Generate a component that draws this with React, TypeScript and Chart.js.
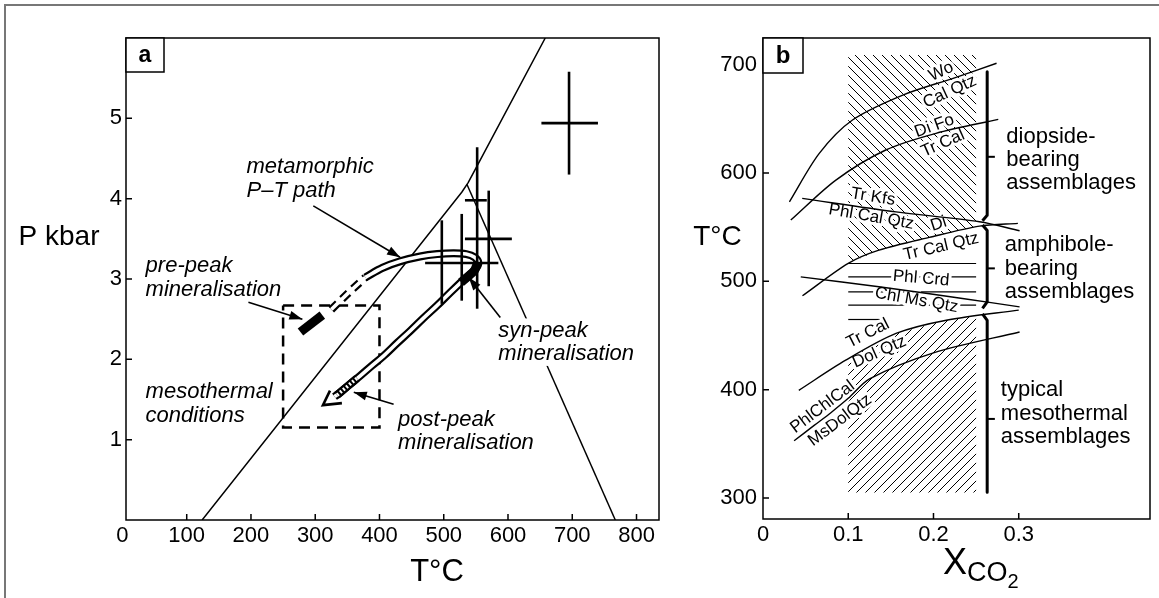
import React, { useEffect, useRef } from "react";
import { Chart, registerables } from "chart.js";

Chart.register(...registerables);

const FONT = '"Liberation Sans", Arial, Helvetica, sans-serif';

// ================= Panel a : P–T diagram =================
const tempTicksA = [0, 100, 200, 300, 400, 500, 600, 700, 800];
const presTicksA = [1, 2, 3, 4, 5];

// reaction / stability boundaries  [T °C, P kbar]
const leftBoundary = [[124, 0], [528, 4.08], [538, 4.2], [548, 4.35], [658, 6.0]];
const rightBoundary = [[536, 4.18], [767, 0]];

// P–T estimates (error crosses)
const crossVT = [695, 497, 528, 552, 570];
const crossVLo = [4.3, 2.69, 2.73, 2.63, 2.91];
const crossVHi = [5.58, 3.73, 3.81, 4.64, 4.1];
const crossHP = [4.94, 3.98, 3.5, 3.2];
const crossHLo = [652, 533, 533, 471];
const crossHHi = [740, 567, 606, 585];

// mesothermal conditions box
const boxOutline = [[250, 2.67], [400, 2.67], [400, 1.15], [250, 1.15], [250, 2.67]];

// metamorphic P–T path
const pathDashed = [[325, 2.62], [352, 2.83], [378, 3.02]];
const pathMain = [
  [378, 3.02], [405, 3.14], [432, 3.22], [463, 3.28], [490, 3.31], [515, 3.32], [535, 3.31],
  [548, 3.27], [554, 3.2], [549, 3.12], [540, 3.05], [531, 2.99], [510, 2.83], [489, 2.665],
  [468, 2.51], [448, 2.355], [427, 2.2], [406, 2.04], [388, 1.92], [370, 1.795], [354, 1.69],
  [339, 1.59], [330, 1.535],
];
const pathChevron = [[323, 1.61], [312, 1.43], [341.5, 1.455]];

// mineralisation stages on the path
const prePeak = [[277, 2.34], [311, 2.55]];
const synPeak = [[553, 3.21], [548, 3.11], [539, 3.04], [527, 2.96]];
const postPeak = [[334, 1.555], [365, 1.765]];

// annotation arrows  [from, to]
const arrowsA = [
  [[297, 3.91], [432, 3.27]],
  [[196, 2.71], [280, 2.5]],
  [[588, 2.52], [539, 3.02]],
  [[422, 1.44], [360, 1.59]],
];

const labelsA = [
  { lines: ["metamorphic", "P\u2013T path"], t: 193, p: 4.39 },
  { lines: ["pre-peak", "mineralisation"], t: 36, p: 3.16 },
  { lines: ["mesothermal", "conditions"], t: 36, p: 1.59 },
  { lines: ["syn-peak", "mineralisation"], t: 585, p: 2.36 },
  { lines: ["post-peak", "mineralisation"], t: 429, p: 1.25 },
];

// ================= Panel b : T–XCO2 diagram =================
const xTicksB = [0, 0.1, 0.2, 0.3];
const tTicksB = [300, 400, 500, 600, 700];

const curveWo = [[0.031, 573.5], [0.066, 618.2], [0.105, 649], [0.164, 672], [0.223, 687.5], [0.274, 701.4]];
const curveDiFo = [[0.0326, 556.6], [0.0855, 593.5], [0.144, 621.3], [0.203, 636.7], [0.276, 649.6]];
const curveTrKfs = [[0.046, 576.6], [0.156, 564.2], [0.254, 555], [0.301, 546.7]];
const curveTrCalQtz = [[0.0463, 486.7], [0.1, 516.6], [0.136, 528.8], [0.195, 540.6], [0.254, 551], [0.299, 553.5]];
const curveChlMs = [[0.0443, 504.2], [0.136, 495], [0.234, 484.2], [0.301, 476.4]];
const curveTrCalDol = [[0.042, 399.4], [0.097, 427.2], [0.156, 451.9], [0.215, 464.1], [0.3, 473.5]];
const curvePhlChl = [[0.0365, 352.8], [0.06, 367], [0.08, 379], [0.1, 392], [0.125, 410], [0.2, 434], [0.301, 453.3]];

const upperHatch = [[0.1, 709], [0.25, 709], [0.25, 550.5], [0.195, 540.6], [0.136, 528.8], [0.1, 516.6], [0.1, 709]];
const lowerHatch = [[0.1, 305], [0.25, 305], [0.25, 468.5], [0.215, 464.1], [0.156, 451.9], [0.1, 428.5], [0.1, 305]];
const midLinesT = [516.5, 504.2, 490.3, 478, 464.8];
const midLinesXEnd = [0.25, 0.25, 0.25, 0.25, 0.137];

const bracket1 = [[0.263, 693.6], [0.263, 561], [0.2575, 556]];
const bracket2 = [[0.2575, 552], [0.263, 547], [0.263, 481], [0.2575, 475]];
const bracket3 = [[0.2575, 470], [0.263, 464], [0.263, 305.2]];
const bracketTicksT = [615, 512, 373];

const labelsB = [
  { text: "Wo", x: 0.209, y: 693.6, rot: -25 },
  { text: "Cal Qtz", x: 0.219, y: 675, rot: -25 },
  { text: "Di Fo", x: 0.201, y: 643.5, rot: -20 },
  { text: "Tr Cal", x: 0.211, y: 627.4, rot: -24 },
  { text: "Tr Kfs", x: 0.129, y: 578, rot: 9 },
  { text: "Phl Cal Qtz", x: 0.127, y: 559.6, rot: 10 },
  { text: "Di", x: 0.206, y: 553, rot: -18 },
  { text: "Tr Cal Qtz", x: 0.209, y: 532, rot: -13 },
  { text: "Phl Crd", x: 0.1855, y: 502.7, rot: 5 },
  { text: "Chl Ms Qtz", x: 0.18, y: 482.6, rot: 10 },
  { text: "Tr Cal", x: 0.123, y: 452, rot: -27 },
  { text: "Dol Qtz", x: 0.1365, y: 434.8, rot: -24 },
  { text: "PhlChlCal", x: 0.0698, y: 384, rot: -37 },
  { text: "MsDolQtz", x: 0.0902, y: 371.7, rot: -37 },
];

const sideLabelsB = [
  { lines: ["diopside-", "bearing", "assemblages"], x: 0.2855, y: 633.6 },
  { lines: ["amphibole-", "bearing", "assemblages"], x: 0.2835, y: 533.4 },
  { lines: ["typical", "mesothermal", "assemblages"], x: 0.279, y: 399.4 },
];

// ================= helpers =================
function pts(arr: number[][]) {
  return arr.map(([x, y]) => ({ x, y }));
}

function lineDs(arr: number[][], extra: any = {}) {
  return {
    data: pts(arr),
    borderColor: "#000",
    borderWidth: 1.5,
    pointRadius: 0,
    pointHoverRadius: 0,
    fill: false,
    tension: 0,
    borderCapStyle: "butt",
    borderJoinStyle: "round",
    ...extra,
  };
}

function hatchPattern(dir: "back" | "fwd") {
  const s = 9;
  const c = document.createElement("canvas");
  c.width = s;
  c.height = s;
  const g = c.getContext("2d")!;
  g.strokeStyle = "#000";
  g.lineWidth = 1.0;
  g.beginPath();
  for (let k = -1; k <= 1; k++) {
    if (dir === "back") {
      g.moveTo(k * s, 0);
      g.lineTo(k * s + s, s);
    } else {
      g.moveTo(k * s + s, 0);
      g.lineTo(k * s, s);
    }
  }
  g.stroke();
  return g.createPattern(c, "repeat")!;
}

function drawFrameAndTicks(chart: any, xt: number[], yt: number[]) {
  const { ctx, chartArea: a } = chart;
  const xs = chart.scales.x;
  const ys = chart.scales.y;
  ctx.save();
  ctx.strokeStyle = "#000";
  ctx.lineWidth = 1.5;
  ctx.strokeRect(a.left, a.top, a.right - a.left, a.bottom - a.top);
  ctx.beginPath();
  for (const v of xt) {
    const px = xs.getPixelForValue(v);
    if (px <= a.left + 1 || px >= a.right - 1) continue;
    ctx.moveTo(px, a.bottom);
    ctx.lineTo(px, a.bottom - 6);
  }
  for (const v of yt) {
    const py = ys.getPixelForValue(v);
    if (py <= a.top + 1 || py >= a.bottom - 1) continue;
    ctx.moveTo(a.left, py);
    ctx.lineTo(a.left + 6, py);
  }
  ctx.stroke();
  ctx.restore();
}

function drawPanelBox(chart: any, letter: string, w: number, h: number, size: number) {
  const { ctx, chartArea: a } = chart;
  ctx.save();
  ctx.fillStyle = "#fff";
  ctx.fillRect(a.left, a.top, w, h);
  ctx.strokeStyle = "#000";
  ctx.lineWidth = 1.5;
  ctx.strokeRect(a.left, a.top, w, h);
  ctx.fillStyle = "#000";
  ctx.font = `bold ${size}px ${FONT}`;
  ctx.textAlign = "center";
  ctx.textBaseline = "middle";
  ctx.fillText(letter, a.left + w / 2, a.top + h / 2 + 1);
  ctx.restore();
}

function linearScale(min: number, max: number, ticks: number[], isX: boolean, size: number, padding: number) {
  return {
    type: "linear",
    min,
    max,
    border: { display: false },
    grid: { display: false, drawTicks: false },
    ticks: {
      color: "#000",
      font: { family: FONT, size: 22 },
      padding,
      autoSkip: false,
      maxRotation: 0,
      minRotation: 0,
      callback: (v: any) => String(v),
    },
    afterBuildTicks: (s: any) => {
      s.ticks = ticks.map((v) => ({ value: v }));
    },
    afterFit: (s: any) => {
      if (isX) s.height = size;
      else s.width = size;
    },
  };
}

// ================= chart configs =================
function configA(): any {
  const ds: any[] = [];
  ds.push(lineDs(leftBoundary, { order: 10 }));
  ds.push(lineDs(rightBoundary, { order: 10 }));
  ds.push(lineDs(boxOutline, { order: 9, borderWidth: 2.5, borderDash: [11, 7], borderJoinStyle: "miter" }));
  ds.push(lineDs(pathDashed, { order: 8, borderWidth: 8, borderDash: [9, 6] }));
  ds.push(lineDs(pathDashed, { order: 7, borderWidth: 3.6, borderColor: "#fff" }));
  ds.push(lineDs(pathMain, { order: 8, borderWidth: 8, tension: 0.35 }));
  ds.push(lineDs(pathMain, { order: 7, borderWidth: 3.6, tension: 0.35, borderColor: "#fff" }));
  ds.push(lineDs(prePeak, { order: 6, borderWidth: 9 }));
  ds.push(lineDs(synPeak, { order: 6, borderWidth: 9, tension: 0.3 }));
  ds.push(lineDs(postPeak, { order: 6, borderWidth: 8 }));
  ds.push(lineDs(postPeak, { order: 5, borderWidth: 3.6, borderColor: "#fff", borderDash: [2, 2] }));
  crossVT.forEach((t, i) => ds.push(lineDs([[t, crossVLo[i]], [t, crossVHi[i]]], { order: 4, borderWidth: 2.6 })));
  crossHP.forEach((p, i) => ds.push(lineDs([[crossHLo[i], p], [crossHHi[i], p]], { order: 4, borderWidth: 2.6 })));
  arrowsA.forEach((a) => ds.push(lineDs(a, { order: 0, borderWidth: 1.6 })));
  ds.push(lineDs(pathChevron, { order: 0, borderWidth: 2.6, borderJoinStyle: "miter" }));

  const LH = 23.5;
  const plugin = {
    id: "panelA",
    afterDatasetDraw(chart: any, args: any) {
      if (args.index !== 0) return;
      const { ctx } = chart;
      const xs = chart.scales.x;
      const ys = chart.scales.y;
      ctx.save();
      ctx.font = `italic 22px ${FONT}`;
      ctx.fillStyle = "#fff";
      for (const lab of labelsA) {
        const x0 = xs.getPixelForValue(lab.t);
        const y0 = ys.getPixelForValue(lab.p);
        lab.lines.forEach((s, i) => {
          const w = ctx.measureText(s).width;
          ctx.fillRect(x0 - 2, y0 + i * LH - 12, w + 4, 24);
        });
      }
      ctx.restore();
    },
    afterDatasetsDraw(chart: any) {
      const { ctx } = chart;
      const xs = chart.scales.x;
      const ys = chart.scales.y;
      ctx.save();
      ctx.fillStyle = "#000";
      for (const [f, t] of arrowsA) {
        const fx = xs.getPixelForValue(f[0]);
        const fy = ys.getPixelForValue(f[1]);
        const tx = xs.getPixelForValue(t[0]);
        const ty = ys.getPixelForValue(t[1]);
        const ang = Math.atan2(ty - fy, tx - fx);
        const L = 13;
        const W = 4.5;
        ctx.beginPath();
        ctx.moveTo(tx, ty);
        ctx.lineTo(tx - L * Math.cos(ang) + W * Math.sin(ang), ty - L * Math.sin(ang) - W * Math.cos(ang));
        ctx.lineTo(tx - L * Math.cos(ang) - W * Math.sin(ang), ty - L * Math.sin(ang) + W * Math.cos(ang));
        ctx.closePath();
        ctx.fill();
      }
      ctx.font = `italic 22px ${FONT}`;
      ctx.textAlign = "left";
      ctx.textBaseline = "middle";
      for (const lab of labelsA) {
        const x0 = xs.getPixelForValue(lab.t);
        const y0 = ys.getPixelForValue(lab.p);
        lab.lines.forEach((s, i) => ctx.fillText(s, x0, y0 + i * LH));
      }
      ctx.restore();
    },
    afterDraw(chart: any) {
      drawFrameAndTicks(chart, tempTicksA, presTicksA);
      drawPanelBox(chart, "a", 38, 34, 23);
      const { ctx } = chart;
      ctx.save();
      ctx.fillStyle = "#000";
      ctx.textAlign = "center";
      ctx.textBaseline = "middle";
      ctx.font = `28px ${FONT}`;
      ctx.fillText("P kbar", 59, 237);
      ctx.font = `31px ${FONT}`;
      ctx.fillText("T\u00B0C", 437, 572);
      ctx.restore();
    },
  };

  return {
    type: "line",
    data: { datasets: ds },
    options: {
      responsive: false,
      animation: false,
      devicePixelRatio: 1,
      events: [],
      layout: { padding: { left: 0, top: 38, right: 6, bottom: 0 } },
      plugins: { legend: { display: false }, tooltip: { enabled: false }, title: { display: false } },
      scales: {
        x: linearScale(5.5, 835, tempTicksA, true, 78, 3),
        y: linearScale(0, 6, presTicksA, false, 126, 4),
      },
    },
    plugins: [plugin],
  };
}

function configB(): any {
  const ds: any[] = [];
  ds.push(lineDs(upperHatch, { order: 10, fill: "shape", backgroundColor: hatchPattern("back"), borderColor: "rgba(0,0,0,0)", borderWidth: 1 }));
  ds.push(lineDs(lowerHatch, { order: 10, fill: "shape", backgroundColor: hatchPattern("fwd"), borderColor: "rgba(0,0,0,0)", borderWidth: 1 }));
  midLinesT.forEach((t, i) => ds.push(lineDs([[0.1, t], [midLinesXEnd[i], t]], { order: 10, borderWidth: 1.2 })));
  [curveWo, curveDiFo, curveTrKfs, curveTrCalQtz, curveChlMs, curveTrCalDol, curvePhlChl].forEach((c) =>
    ds.push(lineDs(c, { order: 1, borderWidth: 1.4, tension: 0.3 }))
  );
  [bracket1, bracket2, bracket3].forEach((b) => ds.push(lineDs(b, { order: 1, borderWidth: 3 })));
  bracketTicksT.forEach((t) => ds.push(lineDs([[0.263, t], [0.272, t]], { order: 1, borderWidth: 2 })));

  const drawLabels = (chart: any, halo: boolean) => {
    const { ctx } = chart;
    const xs = chart.scales.x;
    const ys = chart.scales.y;
    ctx.save();
    ctx.font = `17px ${FONT}`;
    ctx.textAlign = "center";
    ctx.textBaseline = "middle";
    ctx.lineJoin = "round";
    for (const l of labelsB) {
      ctx.save();
      ctx.translate(xs.getPixelForValue(l.x), ys.getPixelForValue(l.y));
      ctx.rotate((l.rot * Math.PI) / 180);
      if (halo) {
        ctx.strokeStyle = "#fff";
        ctx.lineWidth = 6;
        ctx.strokeText(l.text, 0, 0);
      } else {
        ctx.fillStyle = "#000";
        ctx.fillText(l.text, 0, 0);
      }
      ctx.restore();
    }
    ctx.restore();
  };

  const plugin = {
    id: "panelB",
    afterDatasetDraw(chart: any, args: any) {
      if (args.index === 0) drawLabels(chart, true);
    },
    afterDatasetsDraw(chart: any) {
      drawLabels(chart, false);
      const { ctx } = chart;
      const xs = chart.scales.x;
      const ys = chart.scales.y;
      ctx.save();
      ctx.fillStyle = "#000";
      ctx.font = `22px ${FONT}`;
      ctx.textAlign = "left";
      ctx.textBaseline = "middle";
      for (const s of sideLabelsB) {
        const x0 = xs.getPixelForValue(s.x);
        const y0 = ys.getPixelForValue(s.y);
        s.lines.forEach((t, i) => ctx.fillText(t, x0, y0 + i * 23.3));
      }
      ctx.restore();
    },
    afterDraw(chart: any) {
      drawFrameAndTicks(chart, xTicksB, tTicksB);
      drawPanelBox(chart, "b", 40, 35, 24);
      const { ctx } = chart;
      ctx.save();
      ctx.fillStyle = "#000";
      ctx.textAlign = "center";
      ctx.textBaseline = "middle";
      ctx.font = `28px ${FONT}`;
      ctx.fillText("T\u00B0C", 52.5, 237);
      ctx.textAlign = "left";
      ctx.textBaseline = "alphabetic";
      let x = 278;
      ctx.font = `36px ${FONT}`;
      ctx.fillText("X", x, 574);
      x += ctx.measureText("X").width;
      ctx.font = `27px ${FONT}`;
      ctx.fillText("CO", x, 581);
      x += ctx.measureText("CO").width;
      ctx.font = `20px ${FONT}`;
      ctx.fillText("2", x, 588);
      ctx.restore();
    },
  };

  return {
    type: "line",
    data: { datasets: ds },
    options: {
      responsive: false,
      animation: false,
      devicePixelRatio: 1,
      events: [],
      layout: { padding: { left: 0, top: 38, right: 9, bottom: 0 } },
      plugins: { legend: { display: false }, tooltip: { enabled: false }, title: { display: false } },
      scales: {
        x: linearScale(0, 0.454, xTicksB, true, 79, 3),
        y: linearScale(280.6, 724.7, tTicksB, false, 98, 6),
      },
    },
    plugins: [plugin],
  };
}

export default function App() {
  const refA = useRef<HTMLCanvasElement>(null);
  const refB = useRef<HTMLCanvasElement>(null);

  useEffect(() => {
    Chart.defaults.font.family = FONT;
    const a = new Chart(refA.current!, configA());
    const b = new Chart(refB.current!, configB());
    return () => {
      a.destroy();
      b.destroy();
    };
  }, []);

  return (
    <div style={{ position: "fixed", left: 0, top: 0, width: 1159, height: 598, background: "#fff", overflow: "hidden" }}>
      <div
        style={{
          position: "absolute",
          left: 4,
          top: 4,
          width: 1160,
          height: 600,
          borderTop: "2px solid #777",
          borderLeft: "2px solid #777",
        }}
      />
      <canvas ref={refA} width={665} height={598} style={{ position: "absolute", left: 0, top: 0 }} />
      <canvas ref={refB} width={494} height={598} style={{ position: "absolute", left: 665, top: 0 }} />
    </div>
  );
}
